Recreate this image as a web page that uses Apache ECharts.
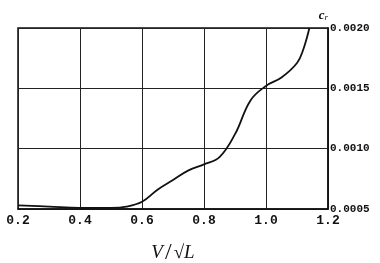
<!DOCTYPE html>
<html><head><meta charset="utf-8">
<script src="https://cdn.jsdelivr.net/npm/echarts@6/dist/echarts.min.js"></script>
<style>html,body{margin:0;padding:0;background:#fff}#c{width:380px;height:263px}</style>
</head><body><div id="c"></div>
<script>
const xValues = [0.2, 0.3, 0.4, 0.5, 0.55, 0.6, 0.65, 0.7, 0.75, 0.8, 0.85, 0.9, 0.95, 1.0, 1.05, 1.1, 1.12, 1.14];
const crValues = [0.00053, 0.00052, 0.00051, 0.00051, 0.00052, 0.00056, 0.00066, 0.00074, 0.00082, 0.00087, 0.00093, 0.00112, 0.00140, 0.00152, 0.00159, 0.00171, 0.00182, 0.0020];
const xTicks = ['0.2','0.4','0.6','0.8','1.0','1.2'];
const yTicks = ['0.0005','0.0010','0.0015','0.0020'];

const chart = echarts.init(document.getElementById('c'), null, {renderer:'canvas'});
const mono = 'Liberation Mono';
const serif = 'Liberation Serif';
chart.setOption({
  animation:false,
  backgroundColor:'#fff',
  grid:{left:18, right:52, top:28, bottom:54, show:true, borderColor:'#111', borderWidth:1.5, outerBoundsMode:'none', containLabel:false},
  xAxis:{
    type:'value', min:0.2, max:1.2, interval:0.2,
    axisLine:{show:true, lineStyle:{color:'#111', width:1.5}},
    axisTick:{show:false},
    splitLine:{show:true, lineStyle:{color:'#222', width:1}},
    axisLabel:{color:'#111', fontFamily:mono, fontWeight:'bold', fontSize:13, margin:5,
      formatter:(v)=>{const i=Math.round((v-0.2)/0.2); return xTicks[i]||'';}},
    name:'{i|V}{sl|/}{s|√}{o|L}', nameLocation:'middle', nameGap:32,
    nameTextStyle:{rich:{
      i:{fontFamily:serif, fontStyle:'italic', fontSize:19, color:'#111'},
      sl:{fontFamily:serif, fontSize:24, color:'#111', padding:[0,2,0,2]},
      s:{fontFamily:serif, fontSize:19, color:'#111'},
      o:{fontFamily:serif, fontStyle:'italic', fontSize:19, color:'#111'}
    }}
  },
  yAxis:{
    type:'value', position:'right', min:0.0005, max:0.0020, interval:0.0005,
    axisLine:{show:true, lineStyle:{color:'#111', width:1.5}},
    axisTick:{show:false},
    splitLine:{show:true, lineStyle:{color:'#222', width:1}},
    axisLabel:{color:'#111', fontFamily:mono, fontWeight:'bold', fontSize:11, margin:2,
      formatter:(v)=>{const i=Math.round((v-0.0005)/0.0005); return yTicks[i]||'';}},
    name:'{c|c}{r|r}', nameLocation:'end', nameGap:6,
    nameTextStyle:{align:'right', rich:{
      c:{fontFamily:serif, fontStyle:'italic', fontWeight:'bold', fontSize:13, color:'#111'},
      r:{fontFamily:serif, fontStyle:'italic', fontSize:9, color:'#111', verticalAlign:'bottom', padding:[4,0,0,0]}
    }}
  },
  series:[{
    type:'line', data:xValues.map((x,i)=>[x, crValues[i]]),
    smooth:0.4, showSymbol:false, clip:false,
    lineStyle:{color:'#111', width:1.8}
  }]
});
</script></body></html>
